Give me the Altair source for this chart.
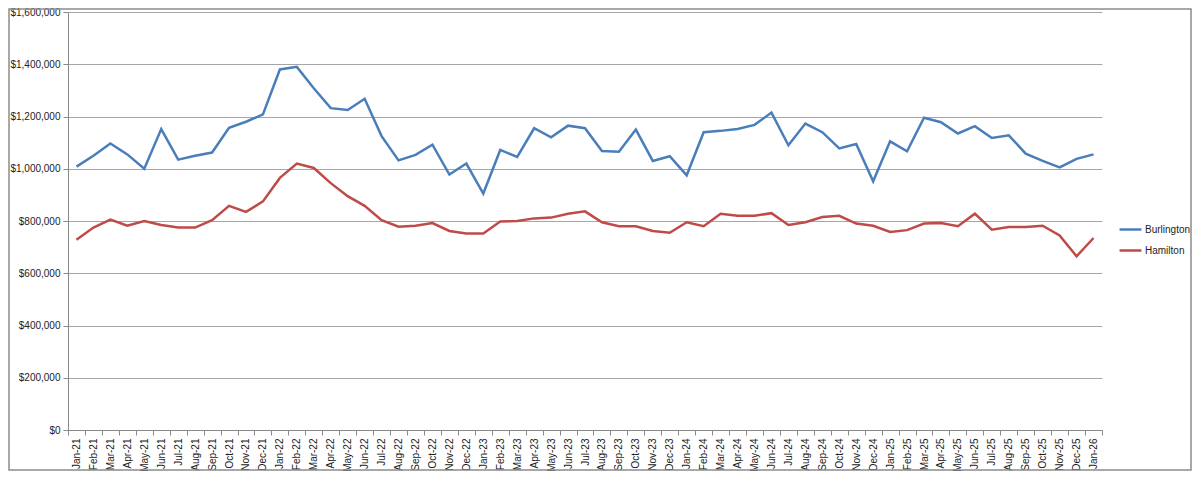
import altair as alt
import pandas as pd

months = [
    "Jan-21", "Feb-21", "Mar-21", "Apr-21", "May-21", "Jun-21", "Jul-21", "Aug-21", "Sep-21", "Oct-21", "Nov-21", "Dec-21",
    "Jan-22", "Feb-22", "Mar-22", "Apr-22", "May-22", "Jun-22", "Jul-22", "Aug-22", "Sep-22", "Oct-22", "Nov-22", "Dec-22",
    "Jan-23", "Feb-23", "Mar-23", "Apr-23", "May-23", "Jun-23", "Jul-23", "Aug-23", "Sep-23", "Oct-23", "Nov-23", "Dec-23",
    "Jan-24", "Feb-24", "Mar-24", "Apr-24", "May-24", "Jun-24", "Jul-24", "Aug-24", "Sep-24", "Oct-24", "Nov-24", "Dec-24",
    "Jan-25", "Feb-25", "Mar-25", "Apr-25", "May-25", "Jun-25", "Jul-25", "Aug-25", "Sep-25", "Oct-25", "Nov-25", "Dec-25",
    "Jan-26",
]

burlington = [
    1008000, 1050000, 1097000, 1055000, 1000000, 1152000, 1035000, 1050000, 1062000, 1157000, 1180000, 1208000,
    1380000, 1390000, 1308000, 1232000, 1225000, 1268000, 1125000, 1032000, 1053000, 1092000, 978000, 1020000,
    905000, 1072000, 1045000, 1155000, 1120000, 1165000, 1155000, 1068000, 1065000, 1150000, 1030000, 1048000,
    975000, 1140000, 1145000, 1152000, 1168000, 1215000, 1090000, 1173000, 1140000, 1078000, 1095000, 952000,
    1105000, 1067000, 1195000, 1178000, 1135000, 1163000, 1118000, 1128000, 1058000, 1030000, 1005000, 1038000,
    1055000,
]

hamilton = [
    728000, 775000, 805000, 782000, 800000, 785000, 775000, 775000, 803000, 858000, 835000, 875000,
    965000, 1020000, 1003000, 945000, 895000, 858000, 803000, 778000, 782000, 792000, 762000, 752000,
    752000, 798000, 800000, 810000, 813000, 828000, 837000, 795000, 780000, 780000, 762000, 755000,
    795000, 780000, 828000, 820000, 820000, 830000, 785000, 795000, 815000, 820000, 790000, 782000,
    758000, 765000, 790000, 792000, 780000, 828000, 767000, 777000, 777000, 782000, 745000, 665000,
    735000,
]

series_names = ["Burlington", "Hamilton"]
series_colors = ["#4a7ebb", "#be4b48"]

rows = []
for m, b, h in zip(months, burlington, hamilton):
    rows.append({"Month": m, "Series": "Burlington", "Value": b})
    rows.append({"Month": m, "Series": "Hamilton", "Value": h})
df = pd.DataFrame(rows)

W = 1034
H = 418
FONT = "Liberation Sans"

lines = alt.Chart(df).mark_line(strokeWidth=2.5, strokeJoin="miter").encode(
    x=alt.X(
        "Month:N",
        sort=months,
        bandPosition=0.5,
        scale=alt.Scale(type="band", paddingInner=0, paddingOuter=0),
        axis=alt.Axis(
            title=None,
            labelAngle=-90,
            labelAlign="right",
            labelBaseline="middle",
            labelFontSize=10,
            labelColor="#222222",
            labelFont=FONT,
            labelPadding=3,
            tickBand="extent",
            tickSize=5,
            tickColor="#888888",
            domainColor="#888888",
            grid=False,
            labelOverlap=False,
        ),
    ),
    y=alt.Y(
        "Value:Q",
        scale=alt.Scale(domain=[0, 1600000], nice=False),
        axis=alt.Axis(
            title=None,
            values=[0, 200000, 400000, 600000, 800000, 1000000, 1200000, 1400000, 1600000],
            format="$,.0f",
            labelFontSize=10,
            labelColor="#222222",
            labelFont=FONT,
            labelPadding=3,
            tickSize=5,
            tickColor="#888888",
            domainColor="#888888",
            gridColor="#a6a6a6",
            gridWidth=1,
        ),
    ),
    color=alt.Color(
        "Series:N",
        scale=alt.Scale(domain=series_names, range=series_colors),
        legend=alt.Legend(
            title=None,
            orient="none",
            legendX=1050,
            legendY=205,
            symbolType="stroke",
            symbolStrokeWidth=2.5,
            symbolSize=480,
            labelFontSize=10,
            labelFont=FONT,
            labelColor="#222222",
            rowPadding=3,
            labelOffset=2,
        ),
    ),
)

frame_left = [-59]
border = alt.Chart(pd.DataFrame({"a": frame_left})).mark_rect(
    filled=False, stroke="#8c8c8c", strokeWidth=1.5
).encode(
    x=alt.value(-59),
    x2=alt.value(W + 89),
    y=alt.value(-3),
    y2=alt.value(H + 40),
)

chart = alt.layer(lines, border).properties(
    width=W,
    height=H,
    background="white",
    autosize=alt.AutoSizeParams(type="none"),
    padding={"left": 60, "top": 4, "right": 90, "bottom": 41},
).configure_view(stroke=None)

chart.save("out.html", embed_options={"renderer": "svg", "actions": False})
